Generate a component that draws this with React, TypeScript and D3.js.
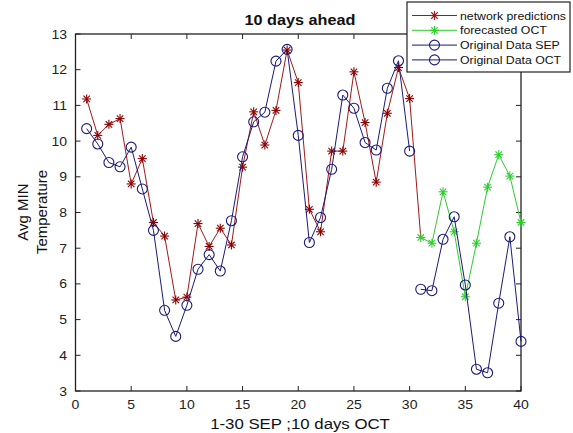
import React from 'react';
import * as d3 from 'd3';

// days 1-30 SEP, 31-40 OCT
const daysSep = d3.range(1, 31);
const daysOct = d3.range(31, 41);

const originalSep = [
  10.35, 9.92, 9.4, 9.28, 9.83, 8.66, 7.5, 5.26, 4.53, 5.4,
  6.41, 6.82, 6.36, 7.77, 9.56, 10.54, 10.81, 12.24, 12.57, 10.16,
  7.16, 7.86, 9.21, 11.29, 10.92, 9.96, 9.75, 11.48, 12.25, 9.72,
];
const networkPred = [
  11.18, 10.16, 10.47, 10.63, 8.8, 9.51, 7.72, 7.34, 5.55, 5.63,
  7.69, 7.05, 7.56, 7.09, 9.27, 10.82, 9.89, 10.86, 12.55, 11.64,
  8.09, 7.46, 9.72, 9.72, 11.94, 10.52, 8.85, 10.78, 12.06, 11.19,
];
const forecastOct = [7.3, 7.14, 8.58, 7.46, 5.64, 7.14, 8.71, 9.62, 9.02, 7.72];
const originalOct = [5.85, 5.81, 7.25, 7.88, 5.97, 3.61, 3.51, 5.46, 7.32, 4.39];

const xTicks = [0, 5, 10, 15, 20, 25, 30, 35, 40];
const yTicks = [3, 4, 5, 6, 7, 8, 9, 10, 11, 12, 13];

const legendItems = [
  { label: 'network predictions', color: '#a01818', marker: 'star' },
  { label: 'forecasted OCT', color: '#2ecc2e', marker: 'star' },
  { label: 'Original Data SEP', color: '#1a1a7a', marker: 'circle' },
  { label: 'Original Data OCT', color: '#1a1a7a', marker: 'circle' },
];

const RED = '#a01818';
const RED_MARK = '#8b0000';
const GREEN = '#2ecc2e';
const BLUE = '#1a1a7a';
const FONT = 'Liberation Sans, Arial, sans-serif';
const SX = 1.12; // horizontal stretch of the text in the picture

const Star = ({ x, y, color, s = 4.5 }: { x: number; y: number; color: string; s?: number }) => {
  const d = s * 0.72;
  return (
    <g stroke={color} strokeWidth={1.1}>
      <line x1={x - s} y1={y} x2={x + s} y2={y} />
      <line x1={x} y1={y - s} x2={x} y2={y + s} />
      <line x1={x - d} y1={y - d} x2={x + d} y2={y + d} />
      <line x1={x - d} y1={y + d} x2={x + d} y2={y - d} />
    </g>
  );
};

const Circle = ({ x, y, color }: { x: number; y: number; color: string }) => (
  <circle cx={x} cy={y} r={5} fill="none" stroke={color} strokeWidth={1.1} />
);

export default function App() {
  const width = 573;
  const height = 433;
  const plot = { left: 75.5, right: 521, top: 34, bottom: 391 };

  const x = d3.scaleLinear().domain([0, 40]).range([plot.left, plot.right]);
  const y = d3.scaleLinear().domain([3, 13]).range([plot.bottom, plot.top]);

  const line = d3.line<[number, number]>()
    .x(d => x(d[0]))
    .y(d => y(d[1]));

  const sepPts: [number, number][] = daysSep.map((d, i) => [d, originalSep[i]]);
  // red line runs on into the first forecasted day
  const predPts: [number, number][] = daysSep.map((d, i) => [d, networkPred[i]] as [number, number])
    .concat([[31, forecastOct[0]]]);
  const fcPts: [number, number][] = daysOct.map((d, i) => [d, forecastOct[i]]);
  const octPts: [number, number][] = daysOct.map((d, i) => [d, originalOct[i]]);

  const tl = 5;

  return (
    <svg width={width} height={height} style={{ position: 'absolute', left: 0, top: 0, background: '#fff' }}
      fontFamily={FONT}>
      <rect width={width} height={height} fill="#fff" />

      {/* axes box and ticks */}
      <rect x={plot.left} y={plot.top} width={plot.right - plot.left} height={plot.bottom - plot.top}
        fill="none" stroke="#222" strokeWidth={1.3} />
      {xTicks.map(t => (
        <g key={'x' + t}>
          <line x1={x(t)} x2={x(t)} y1={plot.bottom} y2={plot.bottom - tl} stroke="#222" />
          <line x1={x(t)} x2={x(t)} y1={plot.top} y2={plot.top + tl} stroke="#222" />
          <text transform={`translate(${x(t)},409) scale(${SX},1)`} textAnchor="middle" fontSize={12.5} fill="#222">{t}</text>
        </g>
      ))}
      {yTicks.map(t => (
        <g key={'y' + t}>
          <line x1={plot.left} x2={plot.left + tl} y1={y(t)} y2={y(t)} stroke="#222" />
          <line x1={plot.right} x2={plot.right - tl} y1={y(t)} y2={y(t)} stroke="#222" />
          <text transform={`translate(67,${y(t) + 4.5}) scale(${SX},1)`} textAnchor="end" fontSize={12.5} fill="#222">{t}</text>
        </g>
      ))}

      {/* series */}
      <path d={line(predPts) ?? ''} fill="none" stroke={RED} strokeWidth={1} />
      {predPts.slice(0, 30).map((p, i) => <Star key={'p' + i} x={x(p[0])} y={y(p[1])} color={RED_MARK} />)}
      <path d={line(fcPts) ?? ''} fill="none" stroke={GREEN} strokeWidth={1} />
      {fcPts.map((p, i) => <Star key={'f' + i} x={x(p[0])} y={y(p[1])} color={GREEN} />)}
      <path d={line(sepPts) ?? ''} fill="none" stroke={BLUE} strokeWidth={1} />
      {sepPts.map((p, i) => <Circle key={'s' + i} x={x(p[0])} y={y(p[1])} color={BLUE} />)}
      <path d={line(octPts) ?? ''} fill="none" stroke={BLUE} strokeWidth={1} />
      {octPts.map((p, i) => <Circle key={'o' + i} x={x(p[0])} y={y(p[1])} color={BLUE} />)}

      {/* title and labels */}
      <text transform={`translate(300,25) scale(${SX},1)`} textAnchor="middle" fontSize={14.5} fontWeight="bold" fill="#111">
        10 days ahead
      </text>
      <text transform={`translate(300,429) scale(${SX},1)`} textAnchor="middle" fontSize={15} fill="#111">
        1-30 SEP ;10 days OCT
      </text>
      <text transform="translate(28,212) rotate(-90)" textAnchor="middle" fontSize={15} fill="#111">Avg MIN</text>
      <text transform="translate(47,212) rotate(-90)" textAnchor="middle" fontSize={15} fill="#111">Temperature</text>

      {/* legend */}
      <g>
        <rect x={407} y={2} width={163} height={70} fill="#fff" stroke="#222" strokeWidth={1.2} />
        {legendItems.map((it, i) => {
          const ly = 15.5 + i * 14.8;
          return (
            <g key={it.label}>
              <line x1={412} x2={457} y1={ly} y2={ly} stroke={it.color} strokeWidth={1} />
              {it.marker === 'star'
                ? <Star x={434.5} y={ly} color={it.color} />
                : <Circle x={434.5} y={ly} color={it.color} />}
              <text transform={`translate(460,${ly + 4}) scale(${SX},1)`} fontSize={11} fill="#111">{it.label}</text>
            </g>
          );
        })}
      </g>
    </svg>
  );
}
